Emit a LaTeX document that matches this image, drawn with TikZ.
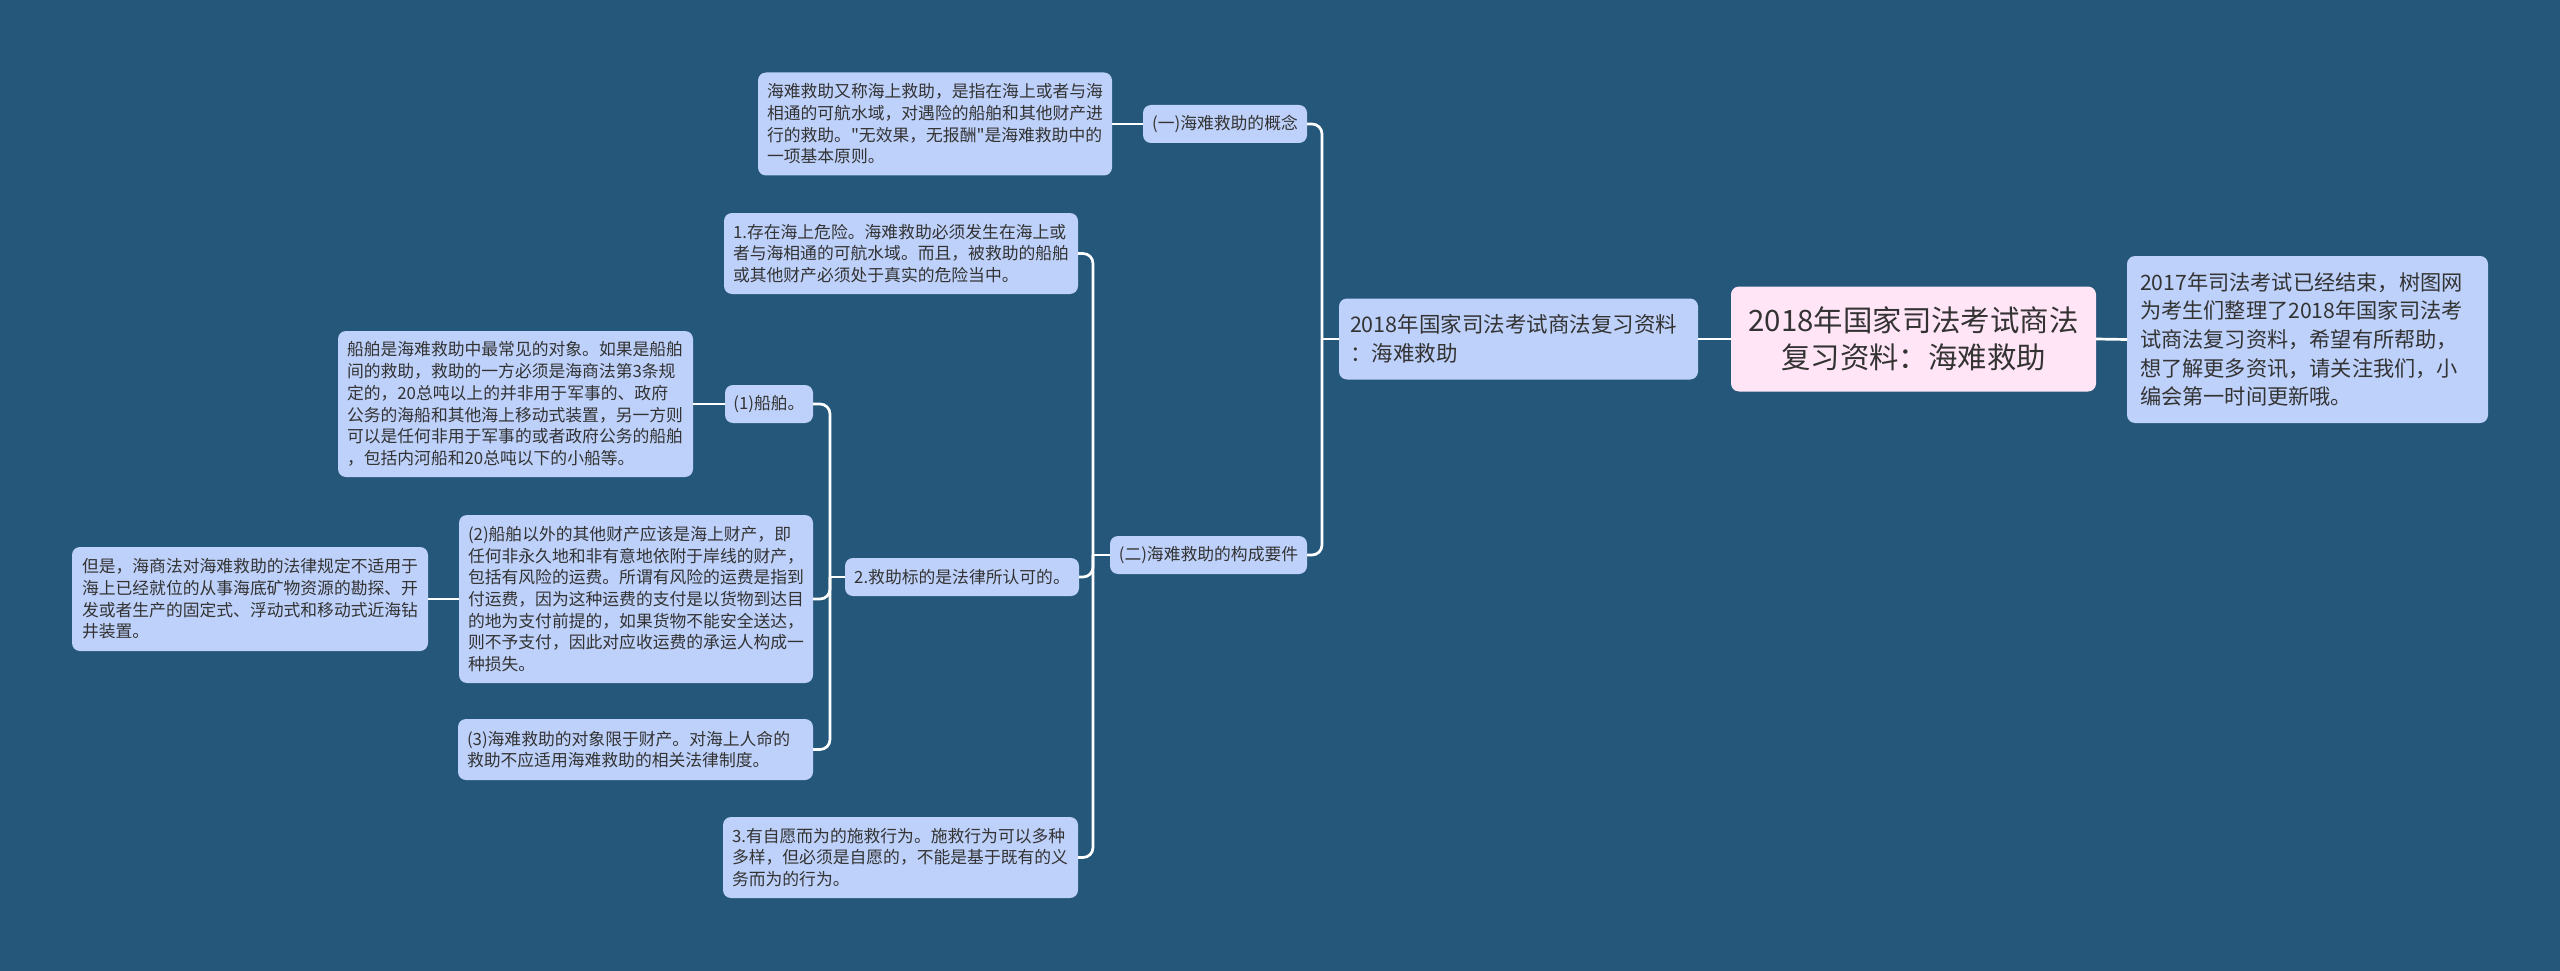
\documentclass[tikz,border=0pt]{standalone}
\usepackage{fontspec}
\newfontfamily\cjk{Noto Sans CJK SC}
\definecolor{bg}{HTML}{245779}
\definecolor{boxc}{HTML}{BED1FA}
\definecolor{rootc}{HTML}{FFE5F6}
\definecolor{txt}{HTML}{333333}
\begin{document}
\begin{tikzpicture}[x=1pt,y=-1pt,
  box/.style={rectangle, rounded corners=8pt, fill=boxc, text=txt, inner xsep=9pt, inner ysep=0pt,
    font=\cjk\fontsize{16.8pt}{21.7pt}\selectfont, align=left},
  lbl/.style={box, align=center, inner xsep=0pt},
  conn/.style={draw=white, line width=2.7pt},
  tree/.style={conn, rounded corners=10pt},
]
\fill[bg] (0,0) rectangle (2560,971);
\useasboundingbox (0,0) rectangle (2560,971);

% root and right description
\node[box, fill=rootc, align=center, inner xsep=0pt, minimum width=365pt, minimum height=105pt,
  font=\cjk\fontsize{29.4pt}{37pt}\selectfont] (root) at (1913.5,339) {2018年国家司法考试商法\\复习资料：海难救助};
\node[box, inner xsep=13pt, text width=335pt, minimum height=167pt,
  font=\cjk\fontsize{21.2pt}{28.7pt}\selectfont] (dsc) at (2307.5,339.5) {2017年司法考试已经结束，树图网\\为考生们整理了2018年国家司法考\\试商法复习资料，希望有所帮助，\\想了解更多资讯，请关注我们，小\\编会第一时间更新哦。};

% level 1
\node[box, inner xsep=11pt, text width=337pt, minimum height=81pt,
  font=\cjk\fontsize{21.5pt}{28.5pt}\selectfont] (L1) at (1518.5,339) {2018年国家司法考试商法复习资料\\：海难救助};

% level 2
\node[lbl, minimum width=164pt, minimum height=38pt] (c1) at (1225,124) {(一)海难救助的概念};
\node[box, text width=336pt, minimum height=103pt] (c1d) at (935,124) {海难救助又称海上救助，是指在海上或者与海\\相通的可航水域，对遇险的船舶和其他财产进\\行的救助。"无效果，无报酬"是海难救助中的\\一项基本原则。};
\node[lbl, minimum width=197pt, minimum height=38pt] (c2) at (1208.5,555) {(二)海难救助的构成要件};

% level 3
\node[box, text width=336pt, minimum height=81pt] (r1) at (901,253.5) {1.存在海上危险。海难救助必须发生在海上或\\者与海相通的可航水域。而且，被救助的船舶\\或其他财产必须处于真实的危险当中。};
\node[lbl, minimum width=234pt, minimum height=38pt] (r2) at (962,577) {2.救助标的是法律所认可的。};
\node[box, text width=337pt, minimum height=81pt] (r3) at (900.5,857.5) {3.有自愿而为的施救行为。施救行为可以多种\\多样，但必须是自愿的，不能是基于既有的义\\务而为的行为。};

% level 4
\node[lbl, minimum width=88pt, minimum height=38pt] (s1) at (769,404) {(1)船舶。};
\node[box, text width=337pt, minimum height=146pt] (s1d) at (515.5,404) {船舶是海难救助中最常见的对象。如果是船舶\\间的救助，救助的一方必须是海商法第3条规\\定的，20总吨以上的并非用于军事的、政府\\公务的海船和其他海上移动式装置，另一方则\\可以是任何非用于军事的或者政府公务的船舶\\，包括内河船和20总吨以下的小船等。};
\node[box, text width=336pt, minimum height=168pt] (s2) at (636,599) {(2)船舶以外的其他财产应该是海上财产，即\\任何非永久地和非有意地依附于岸线的财产，\\包括有风险的运费。所谓有风险的运费是指到\\付运费，因为这种运费的支付是以货物到达目\\的地为支付前提的，如果货物不能安全送达，\\则不予支付，因此对应收运费的承运人构成一\\种损失。};
\node[box, inner xsep=10pt, text width=336pt, minimum height=104pt] (s2d) at (250,599) {但是，海商法对海难救助的法律规定不适用于\\海上已经就位的从事海底矿物资源的勘探、开\\发或者生产的固定式、浮动式和移动式近海钻\\井装置。};
\node[box, text width=337pt, minimum height=61pt] (s3) at (635.5,749.5) {(3)海难救助的对象限于财产。对海上人命的\\救助不应适用海难救助的相关法律制度。};

% spines
\coordinate (spA) at (1322,0);
\coordinate (spB) at (1093,0);
\coordinate (spC) at (830,0);

% connectors
\draw[conn] (root.east) -- (dsc.west);
\draw[conn] (root.west) -- (L1.east);
\draw[conn] (L1.west) -- (L1.west -| spA);
\draw[tree] (L1.west -| spA) |- (c1.east);
\draw[tree] (L1.west -| spA) |- (c2.east);
\draw[conn] (c1.west) -- (c1d.east);
\draw[conn] (c2.west) -- (c2.west -| spB);
\draw[tree] (c2.west -| spB) |- (r1.east);
\draw[tree] (c2.west -| spB) |- (r2.east);
\draw[tree] (c2.west -| spB) |- (r3.east);
\draw[conn] (r2.west) -- (r2.west -| spC);
\draw[tree] (r2.west -| spC) |- (s1.east);
\draw[tree] (r2.west -| spC) |- (s2.east);
\draw[tree] (r2.west -| spC) |- (s3.east);
\draw[conn] (s1.west) -- (s1d.east);
\draw[conn] (s2.west) -- (s2d.east);
\end{tikzpicture}
\end{document}
